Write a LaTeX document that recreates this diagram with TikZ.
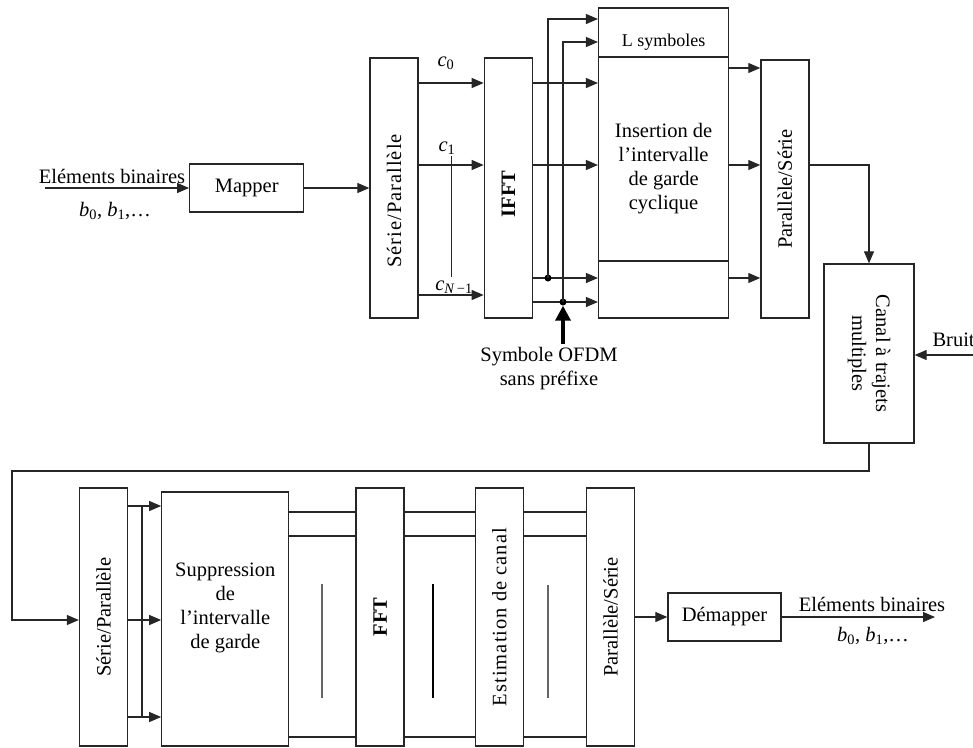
\documentclass[tikz,border=0pt]{standalone}
\usepackage{fontspec}
\setmainfont{Liberation Serif}
\usepackage{graphicx}
\usetikzlibrary{arrows.meta, positioning}

\begin{document}
\begin{tikzpicture}[
    x=1pt, y=-1pt,
    font=\fontsize{20.5}{24}\selectfont,
    block/.style={rectangle, draw=black!85, line width=1.3pt, inner sep=0pt, minimum width=114pt, minimum height=48pt},
    tall/.style={rectangle, draw=black!85, line width=1.3pt, inner sep=0pt, minimum width=48pt, minimum height=258pt},
    wide/.style={rectangle, draw=black!85, line width=1.3pt, inner sep=0pt},
    arrow/.style={-{Triangle[length=12pt, width=10pt]}, line width=1.2pt, color=black!85},
    link/.style={line width=1.2pt, color=black!85},
    bar/.style={line width=1.5pt},
    dot/.style={circle, fill=black, inner sep=0pt, minimum size=7pt},
    small/.style={font=\fontsize{18}{22}\selectfont}
]
\useasboundingbox (0,0) rectangle (973,747);

\node (sp1) [tall, minimum height=260pt] at (394,188) {\rotatebox{90}{{\addfontfeature{LetterSpace=5}Série/Parallèle}\kern26pt}};
\node (map) [block, left=65pt of sp1] {Mapper};
\node (ifft) [tall, minimum height=260pt, right=65pt of sp1] {\rotatebox{90}{\textbf{IFFT}\kern12pt}};
\node (ins) [wide, minimum width=130pt, minimum height=310pt, right=65pt of ifft.south east, anchor=south west] {};
\node (instxt) [align=center] at ([yshift=-6pt]ins.center) {Insertion de\\l'intervalle\\de garde\\cyclique};
\node (lsym) [small, inner sep=0pt, below=26pt of ins.north] {L symboles};
\node (ps1) [tall, right=31pt of ins.south east, anchor=south west] {\rotatebox{90}{Parallèle/Série}};
\node (chan) [wide, minimum width=90pt, minimum height=179pt] at (869,353.5) {\rotatebox{-90}{\begin{tabular}{@{}c@{}}Canal à trajets\\multiples\end{tabular}}};

\coordinate (in) at (45,188);
\node (inlab) at (112,176) {Eléments binaires};
\node (inbin) at (115,211) {\textit{b}\textsubscript{0}, \textit{b}\textsubscript{1},…};
\draw [arrow] (in) -- (map);
\draw [arrow] (map) -- (sp1);

\foreach \yy in {83,165,295}
    \draw [arrow] (sp1.east |- 0,\yy) -- (ifft.west |- 0,\yy);
\node (c0) at (446,63) {\textit{c}\textsubscript{0}};
\node (c1) at (447,148) {\textit{c}\textsubscript{1}};
\node (cn) at (454,287) {\textit{c}\textsubscript{\textit{N}\,−1}};
\draw [link, line width=0.8pt] (451,156) -- (451,277);

\foreach \yy in {83,165,278,302}
    \draw [arrow] (ifft.east |- 0,\yy) -- (ins.west |- 0,\yy);
\node (d1) [dot] at (548,278) {};
\node (d2) [dot] at (563,302) {};
\draw [arrow] (d1.center) |- (ins.west |- 0,19);
\draw [arrow] (d2.center) |- (ins.west |- 0,42);
\draw [link] (ins.west |- 0,57) -- (ins.east |- 0,57);
\draw [link] (ins.west |- 0,261) -- (ins.east |- 0,261);

\node (sym) [align=center] at (549,369) {Symbole OFDM\\sans préfixe};
\draw [-{Triangle[length=15pt, width=15pt]}, line width=3.5pt] (sym.north -| d2) -- (d2.south);

\foreach \yy in {68,165,278}
    \draw [arrow] (ins.east |- 0,\yy) -- (ps1.west |- 0,\yy);
\draw [arrow] (ps1.east |- 0,165) -| (chan.north);

\coordinate (noise) at (975,355);
\node (bruit) [anchor=west] at (929,340) {Bruit};
\draw [arrow] (noise) -- (chan.east |- noise);

\node (sp2) [tall] at (103.5,617) {\rotatebox{90}{Série/Parallèle}};
\node (sup) [wide, minimum width=127pt, minimum height=254pt, right=33pt of sp2.south east, anchor=south west] {};
\node (suptxt) [align=center] at ([yshift=11pt]sup.center) {Suppression\\de\\l'intervalle\\de garde};
\node (fft) [tall, right=66pt of sup.south east, anchor=south west] {\rotatebox{90}{\textbf{FFT}}};
\node (est) [tall, right=70pt of fft] {\rotatebox{90}{\addfontfeature{LetterSpace=5}Estimation de canal}};
\node (ps2) [tall, right=62pt of est] {\rotatebox{90}{Parallèle/Série}};
\node (demap) [block, minimum width=113pt, right=32pt of ps2] {Démapper};

\coordinate (turn) at (12,471);
\draw [arrow] (chan.south) |- (turn) |- (sp2.west |- 0,620);

\foreach \yy in {506,620,717}
    \draw [arrow] (sp2.east |- 0,\yy) -- (sup.west |- 0,\yy);
\draw [link] (142,506) -- (142,717);

\foreach \yy in {512,536,737} {
    \draw [link] (sup.east |- 0,\yy) -- (fft.west |- 0,\yy);
    \draw [link] (fft.east |- 0,\yy) -- (est.west |- 0,\yy);
    \draw [link] (est.east |- 0,\yy) -- (ps2.west |- 0,\yy);
}
\draw [bar, black!60] (322,584) -- (322,698);
\draw [bar, black] (433,584) -- (433,698);
\draw [bar, black!60] (548,585) -- (548,698);

\coordinate (out) at (935,617);
\draw [arrow] (ps2) -- (demap);
\draw [arrow] (demap) -- (out);
\node (outlab) at (872,604) {Eléments binaires};
\node (outbin) at (873,636) {\textit{b}\textsubscript{0}, \textit{b}\textsubscript{1},…};
\end{tikzpicture}
\end{document}
